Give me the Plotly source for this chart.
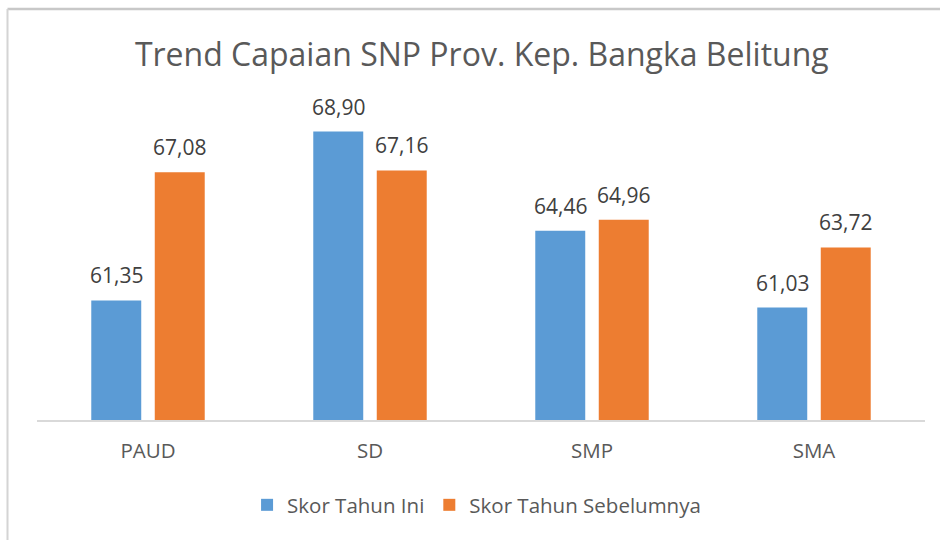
import plotly.graph_objects as go

categories = ["PAUD", "SD", "SMP", "SMA"]
skor_tahun_ini = [61.35, 68.90, 64.46, 61.03]
skor_tahun_sebelumnya = [67.08, 67.16, 64.96, 63.72]
series_names = ["Skor Tahun Ini", "Skor Tahun Sebelumnya"]
series_colors = ["#5B9BD5", "#ED7D31"]

W, H = 941, 541
L, R, T, B = 37, 16, 107, 121
FONT = "Open Sans"
BARGAP, BGG = 0.428, 0.213

fig = go.Figure()
for name, vals, col in zip(series_names, [skor_tahun_ini, skor_tahun_sebelumnya], series_colors):
    fig.add_trace(go.Bar(x=categories, y=vals, name=name,
                         marker=dict(color=col, line=dict(width=0)),
                         hoverinfo="skip"))

pw = W - L - R
ph = H - T - B
slot = pw / len(categories) * (1 - BARGAP) / 2

annotations = []
for i, vals in enumerate([skor_tahun_ini, skor_tahun_sebelumnya]):
    off = (i - 0.5) * slot
    for c, v in zip(categories, vals):
        annotations.append(dict(
            x=c, y=v, xref="x", yref="y", text=f"{v:.2f}".replace(".", ","),
            showarrow=False, xanchor="center", yanchor="bottom",
            xshift=off, yshift=9,
            font=dict(family=FONT, size=21, color="#404040")))

fig.update_layout(
    width=W, height=H,
    margin=dict(l=L, r=R, t=T, b=B, autoexpand=False),
    paper_bgcolor="white", plot_bgcolor="white",
    barmode="group", bargap=BARGAP, bargroupgap=BGG,
    title=dict(text="Trend Capaian SNP Prov. Kep. Bangka Belitung",
               x=0.512, xanchor="center", y=1 - 55 / H, yanchor="middle",
               font=dict(family=FONT, size=32, color="#595959")),
    xaxis=dict(showline=True, linecolor="#D9D9D9", linewidth=1.5,
               ticks="", showgrid=False, ticklabelstandoff=12,
               tickfont=dict(family=FONT, size=20.5, color="#595959")),
    yaxis=dict(range=[56, 70], visible=False, showgrid=False),
    legend=dict(orientation="h", x=0.495, xanchor="center",
                y=(420 - 505) / ph, yanchor="middle",
                font=dict(family=FONT, size=20.5, color="#595959"),
                itemwidth=30, traceorder="normal"),
    showlegend=True,
    font=dict(family=FONT),
    annotations=annotations,
    shapes=[
        dict(type="line", xref="paper", yref="paper", layer="above",
             x0=(7.5 - L) / pw, x1=(W - 1 - L) / pw,
             y0=(H - B - 9) / ph, y1=(H - B - 9) / ph,
             line=dict(color="#C8C8C8", width=2.5)),
        dict(type="line", xref="paper", yref="paper", layer="above",
             x0=(7.5 - L) / pw, x1=(7.5 - L) / pw,
             y0=(H - B - 9) / ph, y1=-(B - 1) / ph,
             line=dict(color="#D4D4D4", width=2)),
    ],
)

fig.write_html("out.html", config={"displayModeBar": False},
               post_script="document.body.style.margin='0';document.body.style.overflow='hidden';")
